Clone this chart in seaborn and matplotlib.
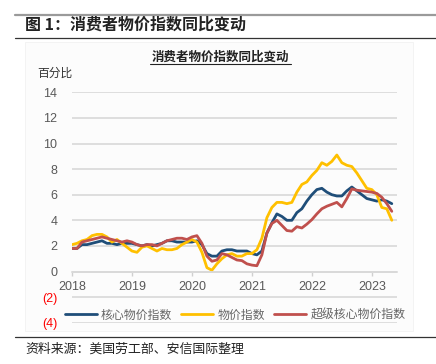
import numpy as np
import pandas as pd
import matplotlib
matplotlib.use('Agg')
import matplotlib.pyplot as plt
from matplotlib.lines import Line2D
from matplotlib.patches import Rectangle
import seaborn as sns

# monthly YoY %, Jan 2018 - May 2023
core_cpi = [1.8, 1.8, 2.1, 2.1, 2.2, 2.3, 2.4, 2.2, 2.2, 2.1, 2.2, 2.2,
            2.2, 2.1, 2.0, 2.1, 2.0, 2.1, 2.2, 2.4, 2.4, 2.3, 2.3, 2.3,
            2.3, 2.4, 2.1, 1.4, 1.2, 1.2, 1.6, 1.7, 1.7, 1.6, 1.6, 1.6,
            1.4, 1.3, 1.6, 3.0, 3.8, 4.5, 4.3, 4.0, 4.0, 4.6, 4.9, 5.5,
            6.0, 6.4, 6.5, 6.2, 6.0, 5.9, 5.9, 6.3, 6.6, 6.3, 6.0, 5.7,
            5.6, 5.5, 5.6, 5.5, 5.3]
headline_cpi = [2.1, 2.2, 2.4, 2.5, 2.8, 2.9, 2.9, 2.7, 2.3, 2.5, 2.2, 1.9,
                1.6, 1.5, 1.9, 2.0, 1.8, 1.6, 1.8, 1.7, 1.7, 1.8, 2.1, 2.3,
                2.5, 2.3, 1.5, 0.3, 0.1, 0.6, 1.0, 1.3, 1.4, 1.2, 1.2, 1.4,
                1.4, 1.7, 2.6, 4.2, 5.0, 5.4, 5.4, 5.3, 5.4, 6.2, 6.8, 7.0,
                7.5, 7.9, 8.5, 8.3, 8.6, 9.1, 8.5, 8.3, 8.2, 7.7, 7.1, 6.5,
                6.4, 6.0, 5.0, 4.9, 4.0]
supercore_cpi = [1.8, 1.8, 2.3, 2.4, 2.5, 2.6, 2.7, 2.6, 2.5, 2.4, 2.3, 2.4,
                 2.3, 2.1, 2.0, 2.1, 2.1, 2.0, 2.2, 2.4, 2.5, 2.6, 2.6, 2.5,
                 2.7, 2.8, 2.2, 1.2, 0.8, 0.9, 1.4, 1.3, 1.1, 0.9, 0.85, 0.6,
                 0.5, 0.45, 1.3, 3.0, 3.75, 4.0, 3.6, 3.2, 3.15, 3.5, 3.4, 3.7,
                 4.05, 4.5, 4.9, 5.1, 5.25, 5.4, 5.05, 5.7, 6.45, 6.35, 6.3, 6.25,
                 6.2, 6.1, 5.8, 5.3, 4.7]
series_names = ['核心物价指数', '物价指数', '超级核心物价指数']
years = [2018, 2019, 2020, 2021, 2022, 2023]
y_ticks = [-4, -2, 0, 2, 4, 6, 8, 10, 12, 14]

t = 2018 + np.arange(len(core_cpi)) / 12.0
df = pd.DataFrame({'t': t, series_names[0]: core_cpi,
                   series_names[1]: headline_cpi, series_names[2]: supercore_cpi})

sns.set_theme(style='white')
plt.rcParams['font.family'] = ['Liberation Sans', 'Noto Sans CJK SC']
cjk = ['Noto Sans CJK SC', 'DejaVu Sans']

fig = plt.figure(figsize=(4.36, 3.64), dpi=100)
fig.patch.set_facecolor('white')
# faint panel behind the embedded chart
fig.add_artist(Rectangle((25 / 436, 1 - 331 / 364), 388 / 436, 289 / 364,
                         transform=fig.transFigure, facecolor='#fcfcfc',
                         edgecolor='#f2f2f2', linewidth=0.6, zorder=0))

ax = fig.add_axes([72 / 436, 1 - 322.7 / 364, 325 / 436, 230.4 / 364])
ax.set_facecolor('none')

colors = ['#1F4E79', '#FFC000', '#C0504D']
for name, c in zip(series_names, colors):
    sns.lineplot(data=df, x='t', y=name, ax=ax, color=c, linewidth=2.0, label=name)

ax.set_xlim(2018, 2023.42)
ax.set_ylim(-4, 14)
ax.set_yticks(y_ticks)
ax.set_yticklabels([f'({-v})' if v < 0 else str(v) for v in y_ticks])
for lab, v in zip(ax.get_yticklabels(), y_ticks):
    lab.set_color('#ff0000' if v < 0 else '#595959')
ax.set_xticks(years)
ax.set_xticklabels([str(y) for y in years])
ax.yaxis.grid(True, color='#d9d9d9', linewidth=1.2)
ax.xaxis.grid(False)
ax.set_axisbelow(True)
for s in ['top', 'right', 'left']:
    ax.spines[s].set_visible(False)
ax.spines['bottom'].set_position(('data', 0))
ax.spines['bottom'].set_color('#d9d9d9')
ax.spines['bottom'].set_linewidth(1.2)
ax.tick_params(axis='x', direction='out', length=3, width=1, color='#d0d0d0',
               labelsize=9, labelcolor='#595959', pad=4, bottom=True)
ax.tick_params(axis='y', length=0, labelsize=9, pad=10.5)
ax.set_xlabel('')
ax.set_ylabel('')
ax.get_legend().remove()

handles, labels = ax.get_legend_handles_labels()
fig.legend(handles, labels, loc='center', bbox_to_anchor=(235 / 436, 1 - 315 / 364),
           ncol=3, frameon=False, handlelength=2.7, handletextpad=0.35,
           columnspacing=0.75, borderpad=0, borderaxespad=0,
           prop={'family': cjk, 'size': 8.6}, labelcolor='#666666')

# header / footer
fig.add_artist(Line2D([15 / 436, 1], [1 - 15 / 364] * 2, color='#9a9a9a', linewidth=1.6))
fig.text(25 / 436, 1 - 25 / 364, '图 1：消费者物价指数同比变动', family=cjk,
         fontsize=11.5, fontweight='bold', color='#222222', va='center', ha='left')
fig.add_artist(Line2D([15 / 436, 1], [1 - 38 / 364] * 2, color='#333333', linewidth=0.9))
fig.text(220 / 436, 1 - 57 / 364, '消费者物价指数同比变动', family=cjk,
         fontsize=9, fontweight='bold', color='#222222', va='center', ha='center')
fig.add_artist(Line2D([150 / 436, 291 / 436], [1 - 64 / 364] * 2, color='#222222', linewidth=0.8))
fig.text(37 / 436, 1 - 73 / 364, '百分比', family=cjk, fontsize=8.5,
         color='#333333', va='center', ha='left')
fig.add_artist(Line2D([15 / 436, 1], [1 - 336.5 / 364] * 2, color='#333333', linewidth=0.9))
fig.text(25 / 436, 1 - 349 / 364, '资料来源：美国劳工部、安信国际整理', family=cjk,
         fontsize=9.3, style='italic', color='#222222', va='center', ha='left')

fig.savefig('out.png', dpi=100)
